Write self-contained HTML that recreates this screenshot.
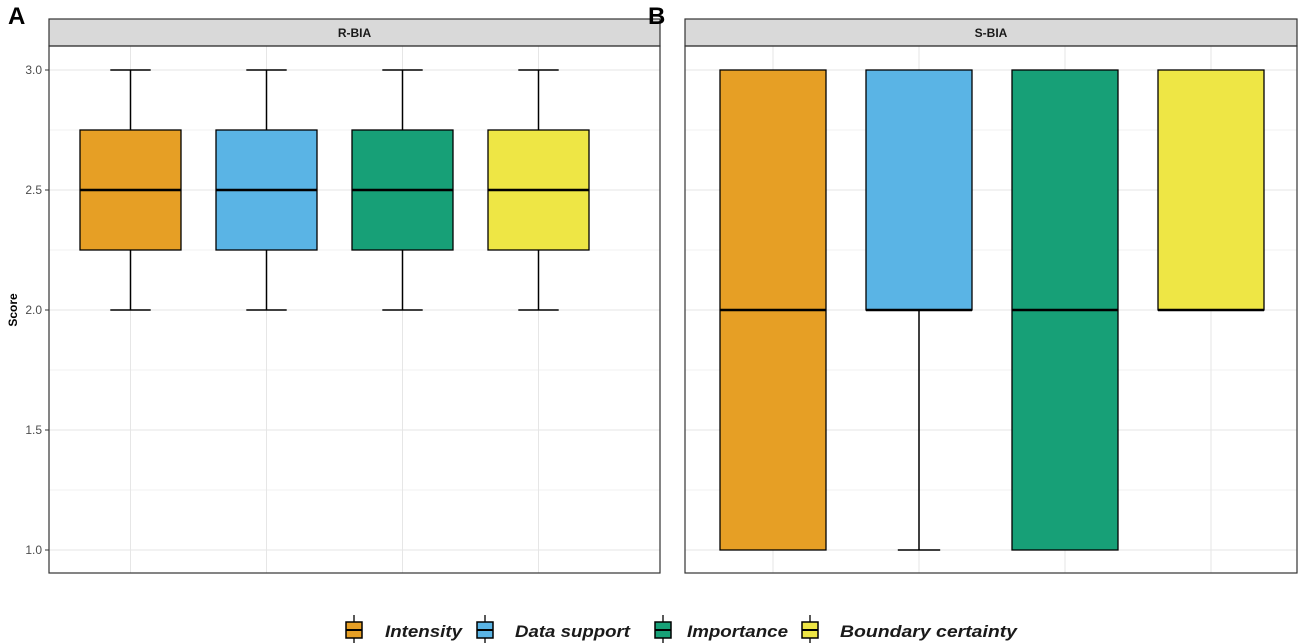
<!DOCTYPE html>
<html><head><meta charset="utf-8"><style>
body{margin:0;background:#fff;}
svg{display:block;font-family:"Liberation Sans",Arial,sans-serif;}
</style></head><body>
<svg id="chart" width="1299" height="644" xmlns="http://www.w3.org/2000/svg"></svg>
<script>
const categories=["Intensity","Data support","Importance","Boundary certainty"];
const colors=["#E69F25","#5AB4E5","#17A077","#EEE645"];
// R-BIA stats
const rbiaMin=[2,2,2,2];
const rbiaQ1=[2.25,2.25,2.25,2.25];
const rbiaMed=[2.5,2.5,2.5,2.5];
const rbiaQ3=[2.75,2.75,2.75,2.75];
const rbiaMax=[3,3,3,3];
// S-BIA stats
const sbiaMin=[1,1,1,2];
const sbiaQ1=[1,2,1,2];
const sbiaMed=[2,2,2,2];
const sbiaQ3=[3,3,3,3];
const sbiaMax=[3,3,3,3];
const yTicks=[1.0,1.5,2.0,2.5,3.0];
const yTickLabels=["1.0","1.5","2.0","2.5","3.0"];

const NS="http://www.w3.org/2000/svg";
const svg=document.getElementById('chart');
function mk(tag,attrs,parent){const e=document.createElementNS(NS,tag);for(const k in attrs)e.setAttribute(k,attrs[k]);(parent||svg).appendChild(e);return e;}
const yScale=v=>550-(v-1)*240;

const panels=[
 {name:"R-BIA",label:"A",x0:49,x1:660,first:130.5,step:136,bw:101,mn:rbiaMin,q1:rbiaQ1,md:rbiaMed,q3:rbiaQ3,mx:rbiaMax,labelX:8},
 {name:"S-BIA",label:"B",x0:685,x1:1297,first:773,step:146,bw:106,mn:sbiaMin,q1:sbiaQ1,md:sbiaMed,q3:sbiaQ3,mx:sbiaMax,labelX:648}
];
const plotTop=46,plotBot=573;
panels.forEach((p,pi)=>{
 const g=mk('g',{});
 
 
 const xs=i=>p.first+i*p.step;
 for(let v=1.25;v<3.1;v+=0.5){mk('line',{x1:p.x0,x2:p.x1,y1:yScale(v),y2:yScale(v),stroke:"#f2f2f2","stroke-width":1},g);}
 yTicks.forEach(v=>{const l=mk('line',{x1:p.x0,x2:p.x1,y1:yScale(v),y2:yScale(v),stroke:"#e6e6e6","stroke-width":1},g);
  
  });
 categories.forEach((c,i)=>{mk('line',{x1:xs(i),x2:xs(i),y1:plotTop,y2:plotBot,stroke:"#e6e6e6","stroke-width":1},g);});
 const s=mk('rect',{x:p.x0,y:19,width:p.x1-p.x0,height:27,fill:"#d9d9d9",stroke:"#333","stroke-width":1.2},g);
 
 
 const st=mk('text',{x:(p.x0+p.x1)/2,y:37,"text-anchor":"middle","font-size":12,"font-weight":"bold",fill:"#1a1a1a"},g);st.textContent=p.name;
 
 
 const pl=mk('text',{x:p.labelX,y:24,"font-size":24,"font-weight":"bold",fill:"#000"},g);pl.textContent=p.label;
 
 
 categories.forEach((c,i)=>{
  const x=xs(i),hw=p.bw/2,bg=mk('g',{},g);
  
  
  if(p.mx[i]>p.q3[i]){mk('line',{x1:x,x2:x,y1:yScale(p.mx[i]),y2:yScale(p.q3[i]),stroke:"#000","stroke-width":1.5},bg);mk('line',{x1:x-hw*0.4,x2:x+hw*0.4,y1:yScale(p.mx[i]),y2:yScale(p.mx[i]),stroke:"#000","stroke-width":1.5},bg);}
  if(p.mn[i]<p.q1[i]){mk('line',{x1:x,x2:x,y1:yScale(p.q1[i]),y2:yScale(p.mn[i]),stroke:"#000","stroke-width":1.5},bg);mk('line',{x1:x-hw*0.4,x2:x+hw*0.4,y1:yScale(p.mn[i]),y2:yScale(p.mn[i]),stroke:"#000","stroke-width":1.5},bg);}
  mk('rect',{x:x-hw,y:yScale(p.q3[i]),width:p.bw,height:yScale(p.q1[i])-yScale(p.q3[i]),fill:colors[i],stroke:"#000","stroke-width":1.3},bg);
  mk('line',{x1:x-hw,x2:x+hw,y1:yScale(p.md[i]),y2:yScale(p.md[i]),stroke:"#000","stroke-width":2.6},bg);
 });
 const b=mk('rect',{x:p.x0,y:plotTop,width:p.x1-p.x0,height:plotBot-plotTop,fill:"none",stroke:"#333","stroke-width":1.2},g);
 
 
 if(pi===0){
  yTicks.forEach((v,k)=>{mk('line',{x1:p.x0-4,x2:p.x0,y1:yScale(v),y2:yScale(v),stroke:"#333"},g);
   const t=mk('text',{x:p.x0-7,y:yScale(v)+4,"text-anchor":"end","font-size":12,fill:"#4d4d4d"},g);t.textContent=yTickLabels[k];
   
   });
 }
});
const yt=mk('text',{x:0,y:0,transform:"translate(17,310) rotate(-90)","text-anchor":"middle","font-size":12,"font-weight":"bold"});yt.textContent="Score";


const legKeyX=[346,477,655,802];
const legTextX=[385,515,687,840];
const legTextW=[77,115,101,177];
categories.forEach((c,i)=>{
 const g=mk('g',{});
 
 
 const x=legKeyX[i];
 mk('line',{x1:x+8,x2:x+8,y1:615,y2:643,stroke:"#000","stroke-width":1.3},g);
 mk('rect',{x:x,y:622,width:16,height:16,fill:colors[i],stroke:"#000","stroke-width":1.5},g);
 mk('line',{x1:x,x2:x+16,y1:630,y2:630,stroke:"#000","stroke-width":2},g);
 const t=mk('text',{x:legTextX[i],y:637,"font-size":17,"font-style":"italic","font-weight":"bold",fill:"#1a1a1a",textLength:legTextW[i],lengthAdjust:"spacingAndGlyphs"},g);t.textContent=c;
});
</script>
</body></html>
